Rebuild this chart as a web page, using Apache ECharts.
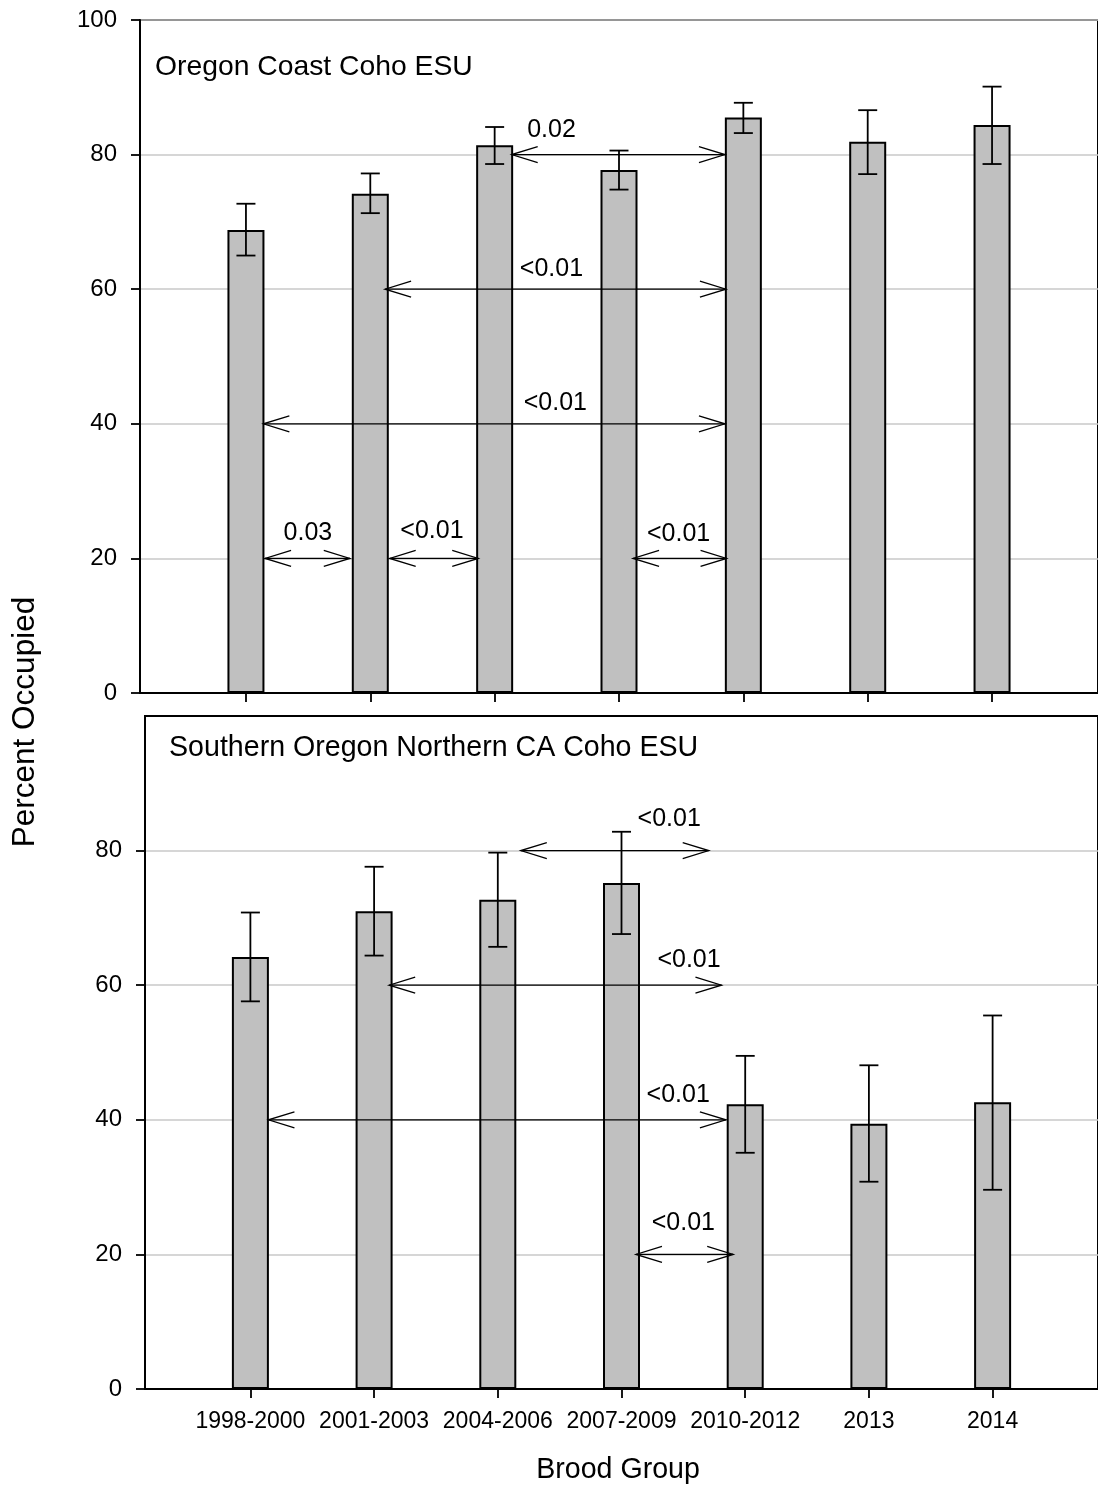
<!DOCTYPE html>
<html>
<head>
<meta charset="utf-8">
<script src="https://cdn.jsdelivr.net/npm/echarts@6/dist/echarts.min.js"></script>
<style>
  html, body { margin: 0; padding: 0; background: #fff; overflow: hidden; }
  #chart { width: 1098px; height: 1502px; }
</style>
</head>
<body>
<div id="chart"></div>
<script>
// Brood groups on the shared x axis
const broodGroups = ['1998-2000', '2001-2003', '2004-2006', '2007-2009', '2010-2012', '2013', '2014'];

// Oregon Coast Coho ESU: percent of sites occupied with 95% interval
const coastPct  = [68.8, 74.2, 81.4, 77.7, 85.5, 81.9, 84.4];
const coastLow  = [65.0, 71.3, 78.6, 74.8, 83.2, 77.1, 78.6];
const coastHigh = [72.7, 77.2, 84.1, 80.6, 87.7, 86.6, 90.1];

// Southern Oregon Northern California Coho ESU
const soncPct  = [64.2, 71.0, 72.7, 75.2, 42.3, 39.4, 42.6];
const soncLow  = [57.6, 64.4, 65.7, 67.6, 35.1, 30.8, 29.6];
const soncHigh = [70.8, 77.6, 79.7, 82.8, 49.5, 48.1, 55.5];

const yTickValues = [0, 20, 40, 60, 80, 100];
const yTickValuesLower = [0, 20, 40, 60, 80];

// Pairwise comparisons: arrow start, arrow end (brood-group units), level, label x, label y
const coastTests = [
  [2.137, 3.852, 80, 2.457, 83.6],
  [1.119, 3.860, 60, 2.457, 63.0],
  [0.140, 3.852, 40, 2.488, 43.1],
  [0.154, 0.835, 20, 0.498, 23.7],
  [1.156, 1.868, 20, 1.496, 24.0],
  [3.113, 3.865, 20, 3.479, 23.6]
];
const coastP = ['0.02', '<0.01', '<0.01', '0.03', '<0.01', '<0.01'];

const soncTests = [
  [2.186, 3.705, 80, 3.386, 84.7],
  [1.122, 3.808, 60, 3.546, 63.7],
  [0.146, 3.844, 40, 3.458, 43.7],
  [3.117, 3.903, 20, 3.500, 24.7]
];
const soncP = ['<0.01', '<0.01', '<0.01', '<0.01'];

const FONT = "'Liberation Sans', Arial, Helvetica, sans-serif";
const X_MIN = -0.852, X_MAX = 6.852;

function errorBarItem(params, api) {
  const x = api.value(0);
  const lo = api.coord([x, api.value(1)]);
  const hi = api.coord([x, api.value(2)]);
  const cap = 9.5;
  const style = { stroke: '#000', lineWidth: 1.8 };
  return {
    type: 'group',
    children: [
      { type: 'line', shape: { x1: lo[0], y1: lo[1], x2: hi[0], y2: hi[1] }, style },
      { type: 'line', shape: { x1: lo[0] - cap, y1: lo[1], x2: lo[0] + cap, y2: lo[1] }, style },
      { type: 'line', shape: { x1: hi[0] - cap, y1: hi[1], x2: hi[0] + cap, y2: hi[1] }, style }
    ]
  };
}

function arrowRenderer(labels) {
  return function (params, api) {
    const lvl = api.value(2);
    const a = api.coord([api.value(0), lvl]);
    const b = api.coord([api.value(1), lvl]);
    const t = api.coord([api.value(3), api.value(4)]);
    const L = 26, H = 8;
    const style = { stroke: '#000', lineWidth: 1.3, fill: null };
    return {
      type: 'group',
      children: [
        { type: 'line', shape: { x1: a[0], y1: a[1], x2: b[0], y2: b[1] }, style },
        { type: 'polyline', shape: { points: [[a[0] + L, a[1] - H], [a[0], a[1]], [a[0] + L, a[1] + H]] }, style },
        { type: 'polyline', shape: { points: [[b[0] - L, b[1] - H], [b[0], b[1]], [b[0] - L, b[1] + H]] }, style },
        {
          type: 'text', x: t[0], y: t[1],
          style: {
            text: labels[params.dataIndex], fill: '#000',
            fontSize: 25, fontFamily: FONT, align: 'center', verticalAlign: 'middle'
          }
        }
      ]
    };
  };
}

function makeXAxis(gridIndex, showLabels) {
  return {
    type: 'value', gridIndex, min: X_MIN, max: X_MAX,
    axisLine: { show: true, onZero: false, lineStyle: { color: '#000', width: 2 } },
    axisTick: {
      show: true, inside: false, length: 9, customValues: [0, 1, 2, 3, 4, 5, 6],
      lineStyle: { color: '#000', width: 1.8 }
    },
    axisLabel: {
      show: showLabels, customValues: [0, 1, 2, 3, 4, 5, 6],
      formatter: v => broodGroups[Math.round(v)],
      color: '#000', fontSize: 23, fontFamily: FONT, margin: 21
    },
    splitLine: { show: false }
  };
}

function makeYAxis(gridIndex, ticks) {
  return {
    type: 'value', gridIndex, min: 0, max: 100, interval: 20,
    axisLine: { show: true, onZero: false, lineStyle: { color: '#000', width: 2 } },
    axisTick: {
      show: true, inside: false, length: 9, customValues: ticks,
      lineStyle: { color: '#000', width: 1.8 }
    },
    axisLabel: {
      customValues: ticks, color: '#000', fontSize: 24, fontFamily: FONT, margin: 23
    },
    splitLine: { show: true, lineStyle: { color: '#c8c8c8', width: 1.5 } }
  };
}

function barSeries(idx, values) {
  return {
    type: 'bar', xAxisIndex: idx, yAxisIndex: idx,
    data: values.map((v, i) => [i, v]),
    barWidth: 37,
    itemStyle: { color: '#c0c0c0', borderColor: '#000', borderWidth: 2 },
    z: 2, silent: true
  };
}

function errorSeries(idx, low, high) {
  return {
    type: 'custom', xAxisIndex: idx, yAxisIndex: idx,
    data: low.map((v, i) => [i, v, high[i]]),
    encode: { x: 0, y: [1, 2] },
    renderItem: errorBarItem, z: 3, silent: true
  };
}

function arrowSeries(idx, tests, labels) {
  return {
    type: 'custom', xAxisIndex: idx, yAxisIndex: idx,
    data: tests,
    encode: { x: [0, 1, 3], y: [2, 4] },
    renderItem: arrowRenderer(labels), z: 4, silent: true
  };
}

const chart = echarts.init(document.getElementById('chart'), null, { renderer: 'canvas' });

chart.setOption({
  animation: false,
  backgroundColor: '#fff',
  grid: [
    { left: 140, top: 20, right: -5, height: 673, show: true, borderColor: '#000', borderWidth: 2, containLabel: false },
    { left: 145, top: 716, right: -10, height: 673, show: true, borderColor: '#000', borderWidth: 2, containLabel: false }
  ],
  xAxis: [makeXAxis(0, false), makeXAxis(1, true)],
  yAxis: [makeYAxis(0, yTickValues), makeYAxis(1, yTickValuesLower)],
  series: [
    barSeries(0, coastPct),
    errorSeries(0, coastLow, coastHigh),
    arrowSeries(0, coastTests, coastP),
    barSeries(1, soncPct),
    errorSeries(1, soncLow, soncHigh),
    arrowSeries(1, soncTests, soncP)
  ],
  graphic: [
    {
      type: 'text', x: 155, y: 67,
      style: { text: 'Oregon Coast Coho ESU', fill: '#000', fontSize: 28.3, fontFamily: FONT, align: 'left', verticalAlign: 'middle' }
    },
    {
      type: 'text', x: 169, y: 748,
      style: { text: 'Southern Oregon Northern CA Coho ESU', fill: '#000', fontSize: 28.6, fontFamily: FONT, align: 'left', verticalAlign: 'middle' }
    },
    {
      type: 'text', x: 25, y: 722, rotation: Math.PI / 2,
      style: { text: 'Percent Occupied', fill: '#000', fontSize: 31.5, fontFamily: FONT, align: 'center', verticalAlign: 'middle' }
    },
    {
      type: 'text', x: 618, y: 1470,
      style: { text: 'Brood Group', fill: '#000', fontSize: 28.6, fontFamily: FONT, align: 'center', verticalAlign: 'middle' }
    }
  ]
});
</script>
</body>
</html>
